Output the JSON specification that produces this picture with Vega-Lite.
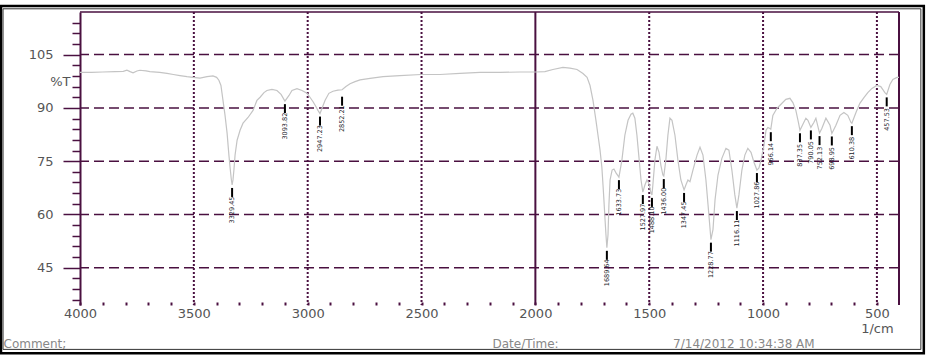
{
  "$schema": "https://vega.github.io/schema/vega-lite/v6.json",
  "width": 819,
  "height": 293,
  "autosize": "none",
  "padding": {"left": 80, "top": 12, "right": 27, "bottom": 53},
  "background": "white",
  "config": {"view": {"stroke": null}, "font": "DejaVu Sans"},
  "data": {"values": [{}]},
  "datasets": {
    "spectrum": [
      {"wn":4000,"T":100.0},{"wn":3950,"T":100.0},{"wn":3900,"T":100.1},{"wn":3846,"T":100.2},{"wn":3810,"T":100.3},{"wn":3794,"T":100.6},{"wn":3780,"T":100.2},{"wn":3767,"T":99.9},{"wn":3750,"T":100.4},{"wn":3737,"T":100.6},{"wn":3710,"T":100.4},{"wn":3693,"T":100.2},{"wn":3650,"T":100.0},{"wn":3618,"T":99.7},{"wn":3590,"T":99.4},{"wn":3561,"T":99.1},{"wn":3530,"T":98.8},{"wn":3504,"T":98.6},{"wn":3473,"T":98.4},{"wn":3442,"T":98.8},{"wn":3416,"T":99.0},{"wn":3400,"T":98.6},{"wn":3390,"T":97.8},{"wn":3381,"T":96.3},{"wn":3372,"T":92.1},{"wn":3363,"T":87.9},{"wn":3354,"T":82.9},{"wn":3346,"T":76.7},{"wn":3341,"T":73.3},{"wn":3336,"T":70.2},{"wn":3332,"T":68.3},{"wn":3328,"T":69.8},{"wn":3324,"T":72.5},{"wn":3319,"T":76.7},{"wn":3310,"T":80.9},{"wn":3297,"T":83.7},{"wn":3284,"T":85.7},{"wn":3262,"T":87.3},{"wn":3240,"T":89.3},{"wn":3223,"T":92.1},{"wn":3209,"T":93.0},{"wn":3192,"T":94.3},{"wn":3179,"T":94.9},{"wn":3157,"T":95.2},{"wn":3135,"T":94.9},{"wn":3117,"T":93.8},{"wn":3100,"T":91.9},{"wn":3082,"T":93.5},{"wn":3069,"T":94.9},{"wn":3047,"T":95.4},{"wn":3025,"T":94.9},{"wn":3003,"T":94.1},{"wn":2990,"T":93.0},{"wn":2977,"T":91.8},{"wn":2964,"T":90.4},{"wn":2955,"T":89.3},{"wn":2946,"T":88.4},{"wn":2937,"T":89.9},{"wn":2924,"T":92.1},{"wn":2907,"T":94.1},{"wn":2889,"T":94.7},{"wn":2867,"T":95.0},{"wn":2849,"T":95.1},{"wn":2832,"T":96.0},{"wn":2814,"T":96.8},{"wn":2792,"T":97.4},{"wn":2770,"T":97.9},{"wn":2726,"T":98.3},{"wn":2669,"T":98.8},{"wn":2595,"T":99.1},{"wn":2502,"T":99.4},{"wn":2419,"T":99.4},{"wn":2331,"T":99.7},{"wn":2243,"T":100.0},{"wn":2155,"T":100.0},{"wn":2068,"T":100.1},{"wn":1997,"T":100.1},{"wn":1958,"T":100.2},{"wn":1923,"T":100.8},{"wn":1879,"T":101.4},{"wn":1848,"T":101.2},{"wn":1817,"T":100.8},{"wn":1791,"T":99.7},{"wn":1773,"T":98.6},{"wn":1760,"T":96.3},{"wn":1747,"T":92.1},{"wn":1734,"T":86.5},{"wn":1725,"T":82.3},{"wn":1716,"T":78.1},{"wn":1708,"T":73.3},{"wn":1703,"T":68.3},{"wn":1699,"T":64.1},{"wn":1694,"T":58.5},{"wn":1690,"T":54.3},{"wn":1686,"T":50.6},{"wn":1681,"T":54.3},{"wn":1677,"T":62.7},{"wn":1672,"T":69.7},{"wn":1663,"T":72.5},{"wn":1655,"T":72.8},{"wn":1646,"T":71.7},{"wn":1633,"T":70.5},{"wn":1620,"T":75.3},{"wn":1607,"T":82.3},{"wn":1593,"T":86.5},{"wn":1580,"T":88.2},{"wn":1572,"T":88.5},{"wn":1563,"T":87.1},{"wn":1554,"T":82.3},{"wn":1546,"T":76.7},{"wn":1536,"T":69.7},{"wn":1528,"T":66.3},{"wn":1519,"T":68.3},{"wn":1510,"T":69.7},{"wn":1502,"T":68.8},{"wn":1493,"T":66.3},{"wn":1488,"T":65.5},{"wn":1484,"T":68.3},{"wn":1475,"T":75.3},{"wn":1466,"T":79.2},{"wn":1457,"T":77.5},{"wn":1449,"T":73.9},{"wn":1440,"T":71.1},{"wn":1436,"T":70.8},{"wn":1427,"T":75.3},{"wn":1418,"T":82.3},{"wn":1409,"T":87.1},{"wn":1400,"T":86.5},{"wn":1387,"T":82.3},{"wn":1374,"T":75.3},{"wn":1361,"T":69.7},{"wn":1347,"T":66.9},{"wn":1339,"T":68.3},{"wn":1330,"T":69.7},{"wn":1321,"T":69.2},{"wn":1308,"T":72.5},{"wn":1290,"T":76.7},{"wn":1277,"T":78.9},{"wn":1264,"T":76.7},{"wn":1251,"T":69.7},{"wn":1238,"T":59.9},{"wn":1229,"T":52.9},{"wn":1220,"T":55.7},{"wn":1211,"T":64.1},{"wn":1198,"T":71.1},{"wn":1181,"T":75.8},{"wn":1163,"T":78.6},{"wn":1150,"T":78.1},{"wn":1137,"T":72.5},{"wn":1124,"T":65.5},{"wn":1115,"T":61.8},{"wn":1106,"T":65.5},{"wn":1093,"T":72.5},{"wn":1080,"T":76.7},{"wn":1067,"T":78.6},{"wn":1053,"T":77.5},{"wn":1040,"T":74.7},{"wn":1027,"T":72.5},{"wn":1018,"T":73.1},{"wn":1009,"T":75.3},{"wn":996,"T":79.5},{"wn":987,"T":83.7},{"wn":979,"T":84.5},{"wn":970,"T":84.2},{"wn":966,"T":84.0},{"wn":957,"T":87.9},{"wn":939,"T":89.9},{"wn":917,"T":91.3},{"wn":900,"T":92.4},{"wn":882,"T":92.7},{"wn":869,"T":91.5},{"wn":856,"T":89.3},{"wn":845,"T":86.0},{"wn":838,"T":83.7},{"wn":825,"T":85.4},{"wn":812,"T":87.1},{"wn":803,"T":86.5},{"wn":790,"T":84.5},{"wn":777,"T":85.9},{"wn":768,"T":87.1},{"wn":752,"T":82.9},{"wn":742,"T":84.2},{"wn":724,"T":87.1},{"wn":706,"T":85.1},{"wn":698,"T":82.8},{"wn":680,"T":85.1},{"wn":662,"T":87.9},{"wn":645,"T":88.7},{"wn":628,"T":87.9},{"wn":614,"T":85.9},{"wn":610,"T":85.7},{"wn":592,"T":88.7},{"wn":575,"T":91.3},{"wn":557,"T":92.9},{"wn":540,"T":94.3},{"wn":522,"T":95.5},{"wn":500,"T":96.3},{"wn":483,"T":96.0},{"wn":465,"T":94.3},{"wn":457,"T":93.8},{"wn":443,"T":96.6},{"wn":430,"T":98.0},{"wn":412,"T":98.6},{"wn":403,"T":98.6}
    ],
    "peaks": [
      {"wn":3332,"T":68.3,"label":"3329.45"},
      {"wn":3100,"T":91.9,"label":"3093.82"},
      {"wn":2946,"T":88.4,"label":"2947.23"},
      {"wn":2849,"T":94.0,"label":"2852.21"},
      {"wn":1686,"T":50.6,"label":"1689.64"},
      {"wn":1633,"T":70.5,"label":"1633.73"},
      {"wn":1528,"T":66.3,"label":"1527.97"},
      {"wn":1488,"T":65.5,"label":"1488.10"},
      {"wn":1436,"T":70.8,"label":"1436.00"},
      {"wn":1347,"T":66.9,"label":"1347.45"},
      {"wn":1229,"T":52.9,"label":"1228.77"},
      {"wn":1115,"T":61.8,"label":"1116.11"},
      {"wn":1027,"T":72.5,"label":"1027.86"},
      {"wn":966,"T":84.0,"label":"966.14"},
      {"wn":838,"T":83.7,"label":"837.35"},
      {"wn":790,"T":84.5,"label":"790.05"},
      {"wn":752,"T":82.9,"label":"752.13"},
      {"wn":698,"T":82.8,"label":"698.95"},
      {"wn":610,"T":85.7,"label":"610.38"},
      {"wn":457,"T":93.8,"label":"457.53"}
    ],
    "hgrid": [{"T":45},{"T":60},{"T":75},{"T":90},{"T":105},{"T":117}],
    "vgrid": [{"wn":3500},{"wn":3000},{"wn":2500},{"wn":2000},{"wn":1500},{"wn":1000},{"wn":500},{"wn":403}]
  },
  "layer": [
    {
      "data": {"name": "hgrid"},
      "mark": {"type": "rule", "color": "#4a1040", "strokeWidth": 1.5},
      "encoding": {
        "y": {"field": "T", "type": "quantitative", "scale": {"domain": [34.5, 117], "nice": false, "zero": false},
          "axis": {"values": [36,39,42,45,48,51,54,57,60,63,66,69,72,75,78,81,84,87,90,93,96,97.5,99,102,105,108,111,114], "labelExpr": "datum.value == 97.5 ? '%T' : (datum.value % 15 == 0 ? datum.label : '')", "grid": false, "domain": true, "domainColor": "#4a1040", "domainWidth": 2, "tickColor": "#4a1040", "tickWidth": 1.5, "tickSize": {"condition": [{"test": "datum.value == 97.5", "value": 0}, {"test": "datum.value % 15 == 0", "value": 17}], "value": 8}, "labelPadding": 10, "labelFont": "DejaVu Sans", "labelFontSize": 13, "labelColor": "#555", "labelOverlap": false, "labelFlush": false, "labelBound": false, "title": "Comment;", "titleAngle": 0, "titleX": -77, "titleY": 335, "titleAlign": "left", "titleBaseline": "alphabetic", "titleFont": "DejaVu Sans", "titleFontSize": 12, "titleFontWeight": "normal", "titleColor": "#888"}},
        "strokeDash": {"condition": {"test": "datum.T == 117", "value": [1, 0]}, "value": [10, 5]}
      }
    },
    {
      "data": {"name": "vgrid"},
      "mark": {"type": "rule", "color": "#4a1040", "strokeWidth": 2},
      "encoding": {
        "x": {"field": "wn", "type": "quantitative", "scale": {"domain": [4000, 403], "nice": false, "zero": false},
          "axis": {"values": [4000,3900,3800,3700,3600,3500,3400,3300,3200,3100,3000,2900,2800,2700,2600,2500,2400,2300,2200,2100,2000,1900,1800,1700,1600,1500,1400,1300,1200,1100,1000,900,800,700,600,500], "format": "d", "labelExpr": "datum.value == 500 ? ['500', '1/cm'] : (datum.value % 500 == 0 ? datum.label : '')", "grid": false, "domain": false, "tickColor": "#4a1040", "tickWidth": 2, "tickSize": -3, "labelPadding": 5, "labelFont": "DejaVu Sans", "labelFontSize": 13, "labelColor": "#555", "labelOverlap": false, "labelFlush": false, "labelBound": false, "title": "Date/Time:\u00a0\u00a0\u00a0\u00a0\u00a0\u00a0\u00a0\u00a0\u00a0\u00a0\u00a0\u00a0\u00a0\u00a0\u00a0\u00a0\u00a0\u00a0\u00a0\u00a0\u00a0\u00a0\u00a0\u00a0\u00a0\u00a0\u00a0\u00a0\u00a0\u00a07/14/2012 10:34:38 AM", "titleX": 412, "titleY": 42, "titleAlign": "left", "titleBaseline": "alphabetic", "titleFont": "DejaVu Sans", "titleFontSize": 12, "titleFontWeight": "normal", "titleColor": "#888"}},
        "strokeDash": {"condition": {"test": "datum.wn == 2000 || datum.wn == 403", "value": [1, 0]}, "value": [2, 2]}
      }
    },
    {
      "data": {"name": "spectrum"},
      "mark": {"type": "line", "color": "#c4c4c4", "strokeWidth": 1.2},
      "encoding": {
        "x": {"field": "wn", "type": "quantitative", "scale": {"domain": [4000, 403], "nice": false, "zero": false},
          "axis": {"values": [4000,3900,3800,3700,3600,3500,3400,3300,3200,3100,3000,2900,2800,2700,2600,2500,2400,2300,2200,2100,2000,1900,1800,1700,1600,1500,1400,1300,1200,1100,1000,900,800,700,600,500], "format": "d", "labelExpr": "datum.value == 500 ? ['500', '1/cm'] : (datum.value % 500 == 0 ? datum.label : '')", "grid": false, "domain": false, "tickColor": "#4a1040", "tickWidth": 2, "tickSize": -3, "labelPadding": 5, "labelFont": "DejaVu Sans", "labelFontSize": 13, "labelColor": "#555", "labelOverlap": false, "labelFlush": false, "labelBound": false, "title": "Date/Time:\u00a0\u00a0\u00a0\u00a0\u00a0\u00a0\u00a0\u00a0\u00a0\u00a0\u00a0\u00a0\u00a0\u00a0\u00a0\u00a0\u00a0\u00a0\u00a0\u00a0\u00a0\u00a0\u00a0\u00a0\u00a0\u00a0\u00a0\u00a0\u00a0\u00a07/14/2012 10:34:38 AM", "titleX": 412, "titleY": 42, "titleAlign": "left", "titleBaseline": "alphabetic", "titleFont": "DejaVu Sans", "titleFontSize": 12, "titleFontWeight": "normal", "titleColor": "#888"}},
        "y": {"field": "T", "type": "quantitative", "scale": {"domain": [34.5, 117], "nice": false, "zero": false},
          "axis": {"values": [36,39,42,45,48,51,54,57,60,63,66,69,72,75,78,81,84,87,90,93,96,97.5,99,102,105,108,111,114], "labelExpr": "datum.value == 97.5 ? '%T' : (datum.value % 15 == 0 ? datum.label : '')", "grid": false, "domain": true, "domainColor": "#4a1040", "domainWidth": 2, "tickColor": "#4a1040", "tickWidth": 1.5, "tickSize": {"condition": [{"test": "datum.value == 97.5", "value": 0}, {"test": "datum.value % 15 == 0", "value": 17}], "value": 8}, "labelPadding": 10, "labelFont": "DejaVu Sans", "labelFontSize": 13, "labelColor": "#555", "labelOverlap": false, "labelFlush": false, "labelBound": false, "title": "Comment;", "titleAngle": 0, "titleX": -77, "titleY": 335, "titleAlign": "left", "titleBaseline": "alphabetic", "titleFont": "DejaVu Sans", "titleFontSize": 12, "titleFontWeight": "normal", "titleColor": "#888"}}
      }
    },
    {
      "data": {"name": "peaks"},
      "mark": {"type": "rule", "color": "black", "strokeWidth": 2, "yOffset": 3, "y2Offset": 12},
      "encoding": {
        "x": {"field": "wn", "type": "quantitative", "scale": {"domain": [4000, 403], "nice": false, "zero": false},
          "axis": {"values": [4000,3900,3800,3700,3600,3500,3400,3300,3200,3100,3000,2900,2800,2700,2600,2500,2400,2300,2200,2100,2000,1900,1800,1700,1600,1500,1400,1300,1200,1100,1000,900,800,700,600,500], "format": "d", "labelExpr": "datum.value == 500 ? ['500', '1/cm'] : (datum.value % 500 == 0 ? datum.label : '')", "grid": false, "domain": false, "tickColor": "#4a1040", "tickWidth": 2, "tickSize": -3, "labelPadding": 5, "labelFont": "DejaVu Sans", "labelFontSize": 13, "labelColor": "#555", "labelOverlap": false, "labelFlush": false, "labelBound": false, "title": "Date/Time:\u00a0\u00a0\u00a0\u00a0\u00a0\u00a0\u00a0\u00a0\u00a0\u00a0\u00a0\u00a0\u00a0\u00a0\u00a0\u00a0\u00a0\u00a0\u00a0\u00a0\u00a0\u00a0\u00a0\u00a0\u00a0\u00a0\u00a0\u00a0\u00a0\u00a07/14/2012 10:34:38 AM", "titleX": 412, "titleY": 42, "titleAlign": "left", "titleBaseline": "alphabetic", "titleFont": "DejaVu Sans", "titleFontSize": 12, "titleFontWeight": "normal", "titleColor": "#888"}},
        "y": {"field": "T", "type": "quantitative", "scale": {"domain": [34.5, 117], "nice": false, "zero": false},
          "axis": {"values": [36,39,42,45,48,51,54,57,60,63,66,69,72,75,78,81,84,87,90,93,96,97.5,99,102,105,108,111,114], "labelExpr": "datum.value == 97.5 ? '%T' : (datum.value % 15 == 0 ? datum.label : '')", "grid": false, "domain": true, "domainColor": "#4a1040", "domainWidth": 2, "tickColor": "#4a1040", "tickWidth": 1.5, "tickSize": {"condition": [{"test": "datum.value == 97.5", "value": 0}, {"test": "datum.value % 15 == 0", "value": 17}], "value": 8}, "labelPadding": 10, "labelFont": "DejaVu Sans", "labelFontSize": 13, "labelColor": "#555", "labelOverlap": false, "labelFlush": false, "labelBound": false, "title": "Comment;", "titleAngle": 0, "titleX": -77, "titleY": 335, "titleAlign": "left", "titleBaseline": "alphabetic", "titleFont": "DejaVu Sans", "titleFontSize": 12, "titleFontWeight": "normal", "titleColor": "#888"}},
        "y2": {"field": "T"}
      }
    },
    {
      "data": {"name": "peaks"},
      "mark": {"type": "text", "angle": 270, "fontSize": 6.5, "yOffset": 25, "color": "#1a1a2a", "font": "DejaVu Sans", "align": "center", "baseline": "middle"},
      "encoding": {
        "x": {"field": "wn", "type": "quantitative", "scale": {"domain": [4000, 403], "nice": false, "zero": false},
          "axis": {"values": [4000,3900,3800,3700,3600,3500,3400,3300,3200,3100,3000,2900,2800,2700,2600,2500,2400,2300,2200,2100,2000,1900,1800,1700,1600,1500,1400,1300,1200,1100,1000,900,800,700,600,500], "format": "d", "labelExpr": "datum.value == 500 ? ['500', '1/cm'] : (datum.value % 500 == 0 ? datum.label : '')", "grid": false, "domain": false, "tickColor": "#4a1040", "tickWidth": 2, "tickSize": -3, "labelPadding": 5, "labelFont": "DejaVu Sans", "labelFontSize": 13, "labelColor": "#555", "labelOverlap": false, "labelFlush": false, "labelBound": false, "title": "Date/Time:\u00a0\u00a0\u00a0\u00a0\u00a0\u00a0\u00a0\u00a0\u00a0\u00a0\u00a0\u00a0\u00a0\u00a0\u00a0\u00a0\u00a0\u00a0\u00a0\u00a0\u00a0\u00a0\u00a0\u00a0\u00a0\u00a0\u00a0\u00a0\u00a0\u00a07/14/2012 10:34:38 AM", "titleX": 412, "titleY": 42, "titleAlign": "left", "titleBaseline": "alphabetic", "titleFont": "DejaVu Sans", "titleFontSize": 12, "titleFontWeight": "normal", "titleColor": "#888"}},
        "y": {"field": "T", "type": "quantitative", "scale": {"domain": [34.5, 117], "nice": false, "zero": false},
          "axis": {"values": [36,39,42,45,48,51,54,57,60,63,66,69,72,75,78,81,84,87,90,93,96,97.5,99,102,105,108,111,114], "labelExpr": "datum.value == 97.5 ? '%T' : (datum.value % 15 == 0 ? datum.label : '')", "grid": false, "domain": true, "domainColor": "#4a1040", "domainWidth": 2, "tickColor": "#4a1040", "tickWidth": 1.5, "tickSize": {"condition": [{"test": "datum.value == 97.5", "value": 0}, {"test": "datum.value % 15 == 0", "value": 17}], "value": 8}, "labelPadding": 10, "labelFont": "DejaVu Sans", "labelFontSize": 13, "labelColor": "#555", "labelOverlap": false, "labelFlush": false, "labelBound": false, "title": "Comment;", "titleAngle": 0, "titleX": -77, "titleY": 335, "titleAlign": "left", "titleBaseline": "alphabetic", "titleFont": "DejaVu Sans", "titleFontSize": 12, "titleFontWeight": "normal", "titleColor": "#888"}},
        "text": {"field": "label"}
      }
    },
    {
      "mark": {"type": "rect", "filled": false, "stroke": "black", "strokeWidth": 2.5},
      "encoding": {
        "x": {"datum": 4347, "type": "quantitative", "scale": {"domain": [4000, 403], "nice": false, "zero": false},
          "axis": {"values": [4000,3900,3800,3700,3600,3500,3400,3300,3200,3100,3000,2900,2800,2700,2600,2500,2400,2300,2200,2100,2000,1900,1800,1700,1600,1500,1400,1300,1200,1100,1000,900,800,700,600,500], "format": "d", "labelExpr": "datum.value == 500 ? ['500', '1/cm'] : (datum.value % 500 == 0 ? datum.label : '')", "grid": false, "domain": false, "tickColor": "#4a1040", "tickWidth": 2, "tickSize": -3, "labelPadding": 5, "labelFont": "DejaVu Sans", "labelFontSize": 13, "labelColor": "#555", "labelOverlap": false, "labelFlush": false, "labelBound": false, "title": "Date/Time:\u00a0\u00a0\u00a0\u00a0\u00a0\u00a0\u00a0\u00a0\u00a0\u00a0\u00a0\u00a0\u00a0\u00a0\u00a0\u00a0\u00a0\u00a0\u00a0\u00a0\u00a0\u00a0\u00a0\u00a0\u00a0\u00a0\u00a0\u00a0\u00a0\u00a07/14/2012 10:34:38 AM", "titleX": 412, "titleY": 42, "titleAlign": "left", "titleBaseline": "alphabetic", "titleFont": "DejaVu Sans", "titleFontSize": 12, "titleFontWeight": "normal", "titleColor": "#888"}},
        "x2": {"datum": 294},
        "y": {"datum": 118.7, "type": "quantitative", "scale": {"domain": [34.5, 117], "nice": false, "zero": false},
          "axis": {"values": [36,39,42,45,48,51,54,57,60,63,66,69,72,75,78,81,84,87,90,93,96,97.5,99,102,105,108,111,114], "labelExpr": "datum.value == 97.5 ? '%T' : (datum.value % 15 == 0 ? datum.label : '')", "grid": false, "domain": true, "domainColor": "#4a1040", "domainWidth": 2, "tickColor": "#4a1040", "tickWidth": 1.5, "tickSize": {"condition": [{"test": "datum.value == 97.5", "value": 0}, {"test": "datum.value % 15 == 0", "value": 17}], "value": 8}, "labelPadding": 10, "labelFont": "DejaVu Sans", "labelFontSize": 13, "labelColor": "#555", "labelOverlap": false, "labelFlush": false, "labelBound": false, "title": "Comment;", "titleAngle": 0, "titleX": -77, "titleY": 335, "titleAlign": "left", "titleBaseline": "alphabetic", "titleFont": "DejaVu Sans", "titleFontSize": 12, "titleFontWeight": "normal", "titleColor": "#888"}},
        "y2": {"datum": 20.9}
      }
    },
    {
      "mark": {"type": "rect", "filled": false, "stroke": "#333", "strokeWidth": 1},
      "encoding": {
        "x": {"datum": 4338, "type": "quantitative", "scale": {"domain": [4000, 403], "nice": false, "zero": false},
          "axis": {"values": [4000,3900,3800,3700,3600,3500,3400,3300,3200,3100,3000,2900,2800,2700,2600,2500,2400,2300,2200,2100,2000,1900,1800,1700,1600,1500,1400,1300,1200,1100,1000,900,800,700,600,500], "format": "d", "labelExpr": "datum.value == 500 ? ['500', '1/cm'] : (datum.value % 500 == 0 ? datum.label : '')", "grid": false, "domain": false, "tickColor": "#4a1040", "tickWidth": 2, "tickSize": -3, "labelPadding": 5, "labelFont": "DejaVu Sans", "labelFontSize": 13, "labelColor": "#555", "labelOverlap": false, "labelFlush": false, "labelBound": false, "title": "Date/Time:\u00a0\u00a0\u00a0\u00a0\u00a0\u00a0\u00a0\u00a0\u00a0\u00a0\u00a0\u00a0\u00a0\u00a0\u00a0\u00a0\u00a0\u00a0\u00a0\u00a0\u00a0\u00a0\u00a0\u00a0\u00a0\u00a0\u00a0\u00a0\u00a0\u00a07/14/2012 10:34:38 AM", "titleX": 412, "titleY": 42, "titleAlign": "left", "titleBaseline": "alphabetic", "titleFont": "DejaVu Sans", "titleFontSize": 12, "titleFontWeight": "normal", "titleColor": "#888"}},
        "x2": {"datum": 307},
        "y": {"datum": 117.9, "type": "quantitative", "scale": {"domain": [34.5, 117], "nice": false, "zero": false},
          "axis": {"values": [36,39,42,45,48,51,54,57,60,63,66,69,72,75,78,81,84,87,90,93,96,97.5,99,102,105,108,111,114], "labelExpr": "datum.value == 97.5 ? '%T' : (datum.value % 15 == 0 ? datum.label : '')", "grid": false, "domain": true, "domainColor": "#4a1040", "domainWidth": 2, "tickColor": "#4a1040", "tickWidth": 1.5, "tickSize": {"condition": [{"test": "datum.value == 97.5", "value": 0}, {"test": "datum.value % 15 == 0", "value": 17}], "value": 8}, "labelPadding": 10, "labelFont": "DejaVu Sans", "labelFontSize": 13, "labelColor": "#555", "labelOverlap": false, "labelFlush": false, "labelBound": false, "title": "Comment;", "titleAngle": 0, "titleX": -77, "titleY": 335, "titleAlign": "left", "titleBaseline": "alphabetic", "titleFont": "DejaVu Sans", "titleFontSize": 12, "titleFontWeight": "normal", "titleColor": "#888"}},
        "y2": {"datum": 22}
      }
    }
  ]
}
